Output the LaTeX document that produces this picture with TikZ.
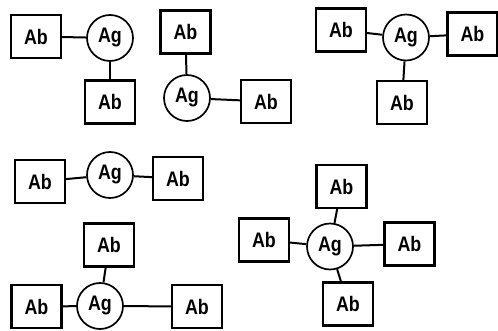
\documentclass[tikz,border=0pt]{standalone}
\usepackage{fontspec}
\setmainfont{Liberation Sans}
\newfontfamily\labelfont[FakeStretch=0.85]{Liberation Sans}
\begin{document}
\begin{tikzpicture}[x=1pt,y=-1pt,
  ab/.style={draw, line width=2.1pt, minimum width=50pt, minimum height=43pt, inner sep=0pt,
    font=\labelfont\fontsize{21}{23}\selectfont\bfseries},
  ag/.style={draw, circle, line width=1.7pt, minimum size=46pt, inner sep=0pt,
    font=\labelfont\fontsize{21}{23}\selectfont\bfseries},
  link/.style={line width=2pt}]
\useasboundingbox (0,0) rectangle (498,331);
% one antigen, two antibodies (left / below)
\node[ab] (b1) at (36,36.5) {Ab};
\node[ag] (ag1) at (110,38) {Ag};
\node[ab] (b2) at (110,102) {Ab};
\draw[link] (b1) -- (ag1);
\draw[link] (ag1) -- (b2);
% one antigen, two antibodies (above / right)
\node[ab] (b3) at (185.5,32) {Ab};
\node[ag] (ag2) at (187,98) {Ag};
\node[ab] (b4) at (266,101.5) {Ab};
\draw[link] (b3) -- (ag2);
\draw[link] (ag2) -- (b4);
% one antigen, three antibodies
\node[ab] (b5) at (341,30) {Ab};
\node[ag] (ag3) at (406,37.5) {Ag};
\node[ab] (b6) at (472.5,34) {Ab};
\node[ab] (b7) at (402,102.5) {Ab};
\draw[link] (b5) -- (ag3);
\draw[link] (ag3) -- (b6);
\draw[link] (ag3) -- (b7);
% one antigen, two antibodies (left / right)
\node[ab] (b8) at (40,181.5) {Ab};
\node[ag] (ag4) at (110,175) {Ag};
\node[ab] (b9) at (178,178.5) {Ab};
\draw[link] (b8) -- (ag4);
\draw[link] (ag4) -- (b9);
% one antigen, three antibodies (above / left / right)
\node[ab] (b10) at (109,245) {Ab};
\node[ag] (ag5) at (100,306) {Ag};
\node[ab] (b11) at (36.5,306.5) {Ab};
\node[ab] (b12) at (197,306.5) {Ab};
\draw[link] (b10) -- (ag5);
\draw[link] (b11) -- (ag5);
\draw[link] (ag5) -- (b12);
% one antigen, four antibodies
\node[ab] (b13) at (341.5,186.5) {Ab};
\node[ag] (ag6) at (330,246.5) {Ag};
\node[ab] (b14) at (264,240) {Ab};
\node[ab] (b15) at (409.5,244) {Ab};
\node[ab] (b16) at (348,304) {Ab};
\draw[link] (b13) -- (ag6);
\draw[link] (b14) -- (ag6);
\draw[link] (ag6) -- (b15);
\draw[link] (ag6) -- (b16);
\end{tikzpicture}
\end{document}
